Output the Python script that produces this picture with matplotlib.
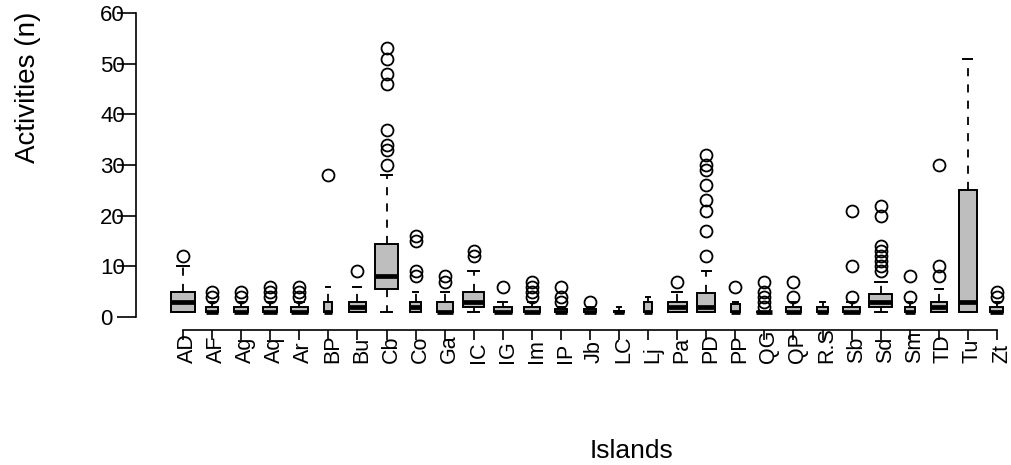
import matplotlib
matplotlib.use("Agg")
import matplotlib.pyplot as plt
from matplotlib import transforms
import numpy as np

plt.rcParams['font.family'] = ['Liberation Sans', 'DejaVu Sans']

# box statistics, one entry per island
islands = ["AD", "AF", "Ag", "Aq", "Ar", "BP", "Bu", "Cb", "Co", "Ga",
           "IC", "IG", "Im", "IP", "Jb", "LC", "Lj", "Pa", "PD", "PP",
           "QG", "QP", "R.S", "Sb", "Sd", "Sm", "TD", "Tu", "Zt"]
n_obs = [100, 27, 34, 34, 54, 12, 48, 100, 24, 48,
         82, 58, 48, 28, 26, 17, 12, 69, 58, 14,
         48, 44, 21, 52, 100, 17, 48, 58, 31]
q1 = [1, 1, 1, 1, 1, 1, 1, 5.5, 1, 1,
      2, 1, 1, 1, 1, 1, 1, 1, 1, 1,
      1, 1, 1, 1, 2, 1, 1, 1, 1]
med = [3, 1, 1, 1, 1, 1, 2, 8, 2, 1,
       3, 1, 1, 1, 1, 1, 1, 2, 2, 1,
       1, 1, 1, 1, 3, 1, 2, 3, 1]
q3 = [5, 2, 2, 2, 2, 3, 3, 14.5, 3, 3,
      5, 2, 2, 1.5, 1.5, 1.25, 3, 3, 4.75, 2.5,
      1, 2, 2, 2, 4.5, 2, 3, 25, 2]
whis_lo = [1, 1, 1, 1, 1, 1, 1, 1, 1, 1,
           1, 1, 1, 1, 1, 1, 1, 1, 1, 1,
           1, 1, 1, 1, 1, 1, 1, 1, 1]
whis_hi = [10, 3, 3, 3, 3, 6, 6, 28, 5, 5,
           9, 3, 3, 2, 2, 2, 4, 5, 9, 3,
           1, 3, 3, 3, 7, 3, 5.5, 51, 3]
outliers = [[12], [4, 5], [4, 5], [4, 5, 6], [4, 5, 6], [28], [9],
            [30, 33, 34, 37, 46, 48, 51, 53], [8, 9, 15, 16], [7, 8],
            [12, 13], [6], [4, 5, 6, 7], [3, 4, 6], [3], [], [], [7],
            [12, 17, 21, 23, 26, 29, 30, 32], [6], [2, 3, 4, 5, 7], [4, 7],
            [], [4, 10, 21], [9, 10, 11, 12, 13, 14, 20, 22], [4, 8],
            [8, 10, 30], [], [4, 5]]
y_ticks = [0, 10, 20, 30, 40, 50, 60]

fig = plt.figure(figsize=(10.11, 4.65), dpi=100)
ax = fig.add_axes([168.5 / 1011, 1 - 330 / 465, 843 / 1011, 330 / 465])

positions = np.arange(1, len(islands) + 1)
widths = 0.8 * np.sqrt(n_obs) / np.sqrt(max(n_obs))  # varwidth style

stats = []
for i, name in enumerate(islands):
    stats.append(dict(label=name, q1=q1[i], med=med[i], q3=q3[i],
                      whislo=whis_lo[i], whishi=whis_hi[i], fliers=outliers[i]))

ax.bxp(stats, positions=positions, widths=widths, capwidths=widths * 0.5,
       patch_artist=True,
       boxprops=dict(facecolor="#BEBEBE", edgecolor="black", linewidth=1.4),
       whiskerprops=dict(color="black", linewidth=1.3, linestyle=(0, (4.5, 4.5))),
       capprops=dict(color="black", linewidth=1.4),
       medianprops=dict(color="black", linewidth=3.4, solid_capstyle="butt"),
       flierprops=dict(marker="o", markerfacecolor="none", markeredgecolor="black",
                       markersize=8.6, markeredgewidth=1.3))

ax.set_xlim(0.5, 29.5)
ax.set_ylim(-2.57, 62.57)

for side in ["top", "right"]:
    ax.spines[side].set_visible(False)
ax.spines["left"].set_position(("outward", 23.4))
ax.spines["left"].set_bounds(0, 60)
ax.spines["bottom"].set_bounds(1, len(islands))
ax.spines["left"].set_linewidth(1.2)
ax.spines["bottom"].set_linewidth(1.2)

ax.set_yticks(y_ticks)
ax.tick_params(axis="y", length=13.7, width=1.2, pad=12.2, labelsize=16)
for lbl in ax.get_yticklabels():
    lbl.set_horizontalalignment("left")

ax.set_xticks(positions)
ax.set_xticklabels([])
ax.tick_params(axis="x", length=7.2, width=1.2)

# rotated island names, starting below the axis and reading upward
lab_trans = transforms.blended_transform_factory(ax.transData, fig.transFigure) + \
    transforms.ScaledTranslation(10 / 100, 0, fig.dpi_scale_trans)
for p, name in zip(positions, islands):
    ax.text(p, 1 - 363 / 465, name, transform=lab_trans, rotation=90,
            rotation_mode="anchor", ha="left", va="baseline", fontsize=15.5)

fig.text(28 / 1011, 1 - 87 / 465, "Activities (n)", rotation=90,
         ha="center", va="center", fontsize=20)
fig.text(631 / 1011, 1 - 458 / 465, "Islands", ha="center", va="baseline", fontsize=19)

fig.savefig("out.png", dpi=100)
